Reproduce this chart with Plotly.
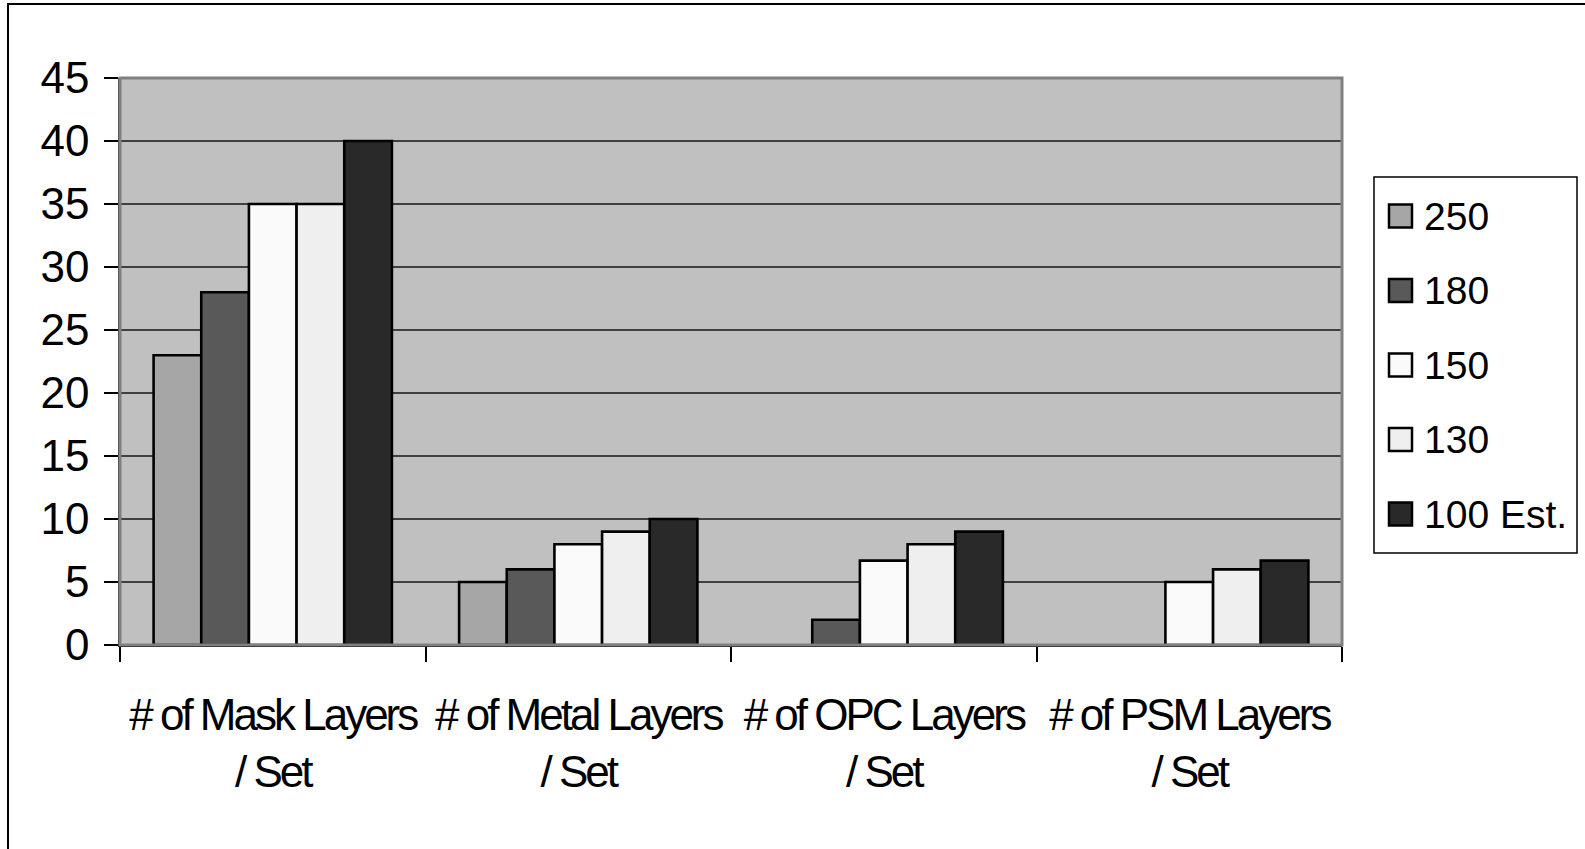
import plotly.graph_objects as go

# Categories and series values
categories = [
    "# of Mask Layers<br>/ Set",
    "# of Metal Layers<br>/ Set",
    "# of OPC Layers<br>/ Set",
    "# of PSM Layers<br>/ Set",
]
series_names = ["250", "180", "150", "130", "100 Est."]
v250 = [23, 5, None, None]
v180 = [28, 6, 2, None]
v150 = [35, 8, 6.7, 5]
v130 = [35, 9, 8, 6]
v100 = [40, 10, 9, 6.7]
y_ticks = [0, 5, 10, 15, 20, 25, 30, 35, 40, 45]

series_values = [v250, v180, v150, v130, v100]
colors = ["#a6a6a6", "#595959", "#fafafa", "#efefef", "#292929"]

W, H = 1585, 849
ML, MR, MT, MB = 120, 243, 78, 204
PW, PH = W - ML - MR, H - MT - MB


def px_x(p):
    return (p - ML) / PW


def px_y(p):
    return (H - MB - p) / PH


fig = go.Figure()
for name, vals, col in zip(series_names, series_values, colors):
    fig.add_trace(go.Bar(
        x=categories, y=vals, name=name,
        marker=dict(color=col, line=dict(color="black", width=2.6)),
        showlegend=False,
    ))

shapes = []
# plot-area frame
shapes.append(dict(type="rect", xref="paper", yref="paper", x0=0, x1=1, y0=0, y1=1,
                   line=dict(color="#808080", width=3), layer="above"))
# outer chart border
shapes.append(dict(type="rect", xref="paper", yref="paper",
                   x0=px_x(8), x1=px_x(W + 20), y0=px_y(H + 20), y1=px_y(4),
                   line=dict(color="black", width=2)))

# legend box
lx0, lx1, ly0, ly1 = 1374, 1577, 177, 553
shapes.append(dict(type="rect", xref="paper", yref="paper",
                   x0=px_x(lx0), x1=px_x(lx1), y0=px_y(ly1), y1=px_y(ly0),
                   line=dict(color="black", width=1.5), fillcolor="white"))
annotations = []
for i, (name, col) in enumerate(zip(series_names, colors)):
    cy = 216 + i * 74.5
    shapes.append(dict(type="rect", xref="paper", yref="paper",
                       x0=px_x(1389), x1=px_x(1412), y0=px_y(cy + 11.5), y1=px_y(cy - 11.5),
                       line=dict(color="black", width=2.5), fillcolor=col))
    annotations.append(dict(x=px_x(1422), y=px_y(cy), xref="paper", yref="paper",
                            text=name, showarrow=False, xanchor="left", yanchor="middle",
                            font=dict(family="Liberation Sans, Arial", size=39, color="black")))

# tighter letter spacing for the long category labels
tick_text = [
    "<br>".join('<span style="letter-spacing:-3px">%s</span>' % part for part in c.split("<br>"))
    for c in categories
]

fig.update_layout(
    width=W, height=H, autosize=False,
    margin=dict(l=ML, r=MR, t=MT, b=MB, pad=0),
    paper_bgcolor="white", plot_bgcolor="#c0c0c0",
    barmode="group", bargap=0.22, bargroupgap=0,
    shapes=shapes, annotations=annotations,
    xaxis=dict(
        type="category", tickson="boundaries", ticks="outside", ticklen=15,
        tickcolor="black", tickwidth=1.5, showline=True, linecolor="black", linewidth=2,
        showgrid=False, ticklabelstandoff=30, tickangle=0, automargin=False,
        tickmode="array", tickvals=categories, ticktext=tick_text,
        tickfont=dict(family="Liberation Sans, Arial", size=44, color="black"),
    ),
    yaxis=dict(
        range=[0, 45], tickvals=y_ticks, ticks="outside", ticklen=14,
        tickcolor="black", tickwidth=1.5, showline=True, linecolor="#333333", linewidth=1.5,
        showgrid=True, gridcolor="#404040", gridwidth=1.5, zeroline=False,
        ticklabelstandoff=6, automargin=False,
        tickfont=dict(family="Liberation Sans, Arial", size=44, color="black"),
    ),
)

fig.write_html("out.html")
